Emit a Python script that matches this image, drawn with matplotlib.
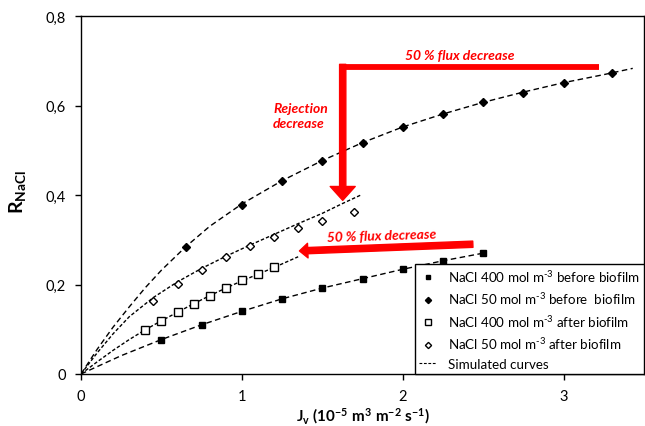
import numpy as np
import matplotlib
matplotlib.use("Agg")
import matplotlib.pyplot as plt

plt.rcParams['font.family'] = ['Lato', 'DejaVu Sans']
plt.rcParams['mathtext.fontset'] = 'custom'
plt.rcParams['mathtext.rm'] = 'Lato'
plt.rcParams['mathtext.it'] = 'Lato:italic'
plt.rcParams['mathtext.bf'] = 'Lato:bold'

# measured points
x_400_before = [0.5, 0.75, 1.0, 1.25, 1.5, 1.75, 2.0, 2.25, 2.5]
y_400_before = [0.077, 0.110, 0.140, 0.168, 0.192, 0.213, 0.234, 0.253, 0.270]

x_50_before = [0.65, 1.0, 1.25, 1.5, 1.75, 2.0, 2.25, 2.5, 2.75, 3.0, 3.3]
y_50_before = [0.284, 0.378, 0.432, 0.477, 0.517, 0.552, 0.580, 0.607, 0.629, 0.651, 0.672]

x_400_after = [0.4, 0.5, 0.6, 0.7, 0.8, 0.9, 1.0, 1.1, 1.2]
y_400_after = [0.099, 0.119, 0.138, 0.157, 0.175, 0.192, 0.209, 0.223, 0.238]

x_50_after = [0.45, 0.6, 0.75, 0.9, 1.05, 1.2, 1.35, 1.5, 1.7]
y_50_after = [0.164, 0.201, 0.232, 0.261, 0.285, 0.306, 0.326, 0.343, 0.362]

# simulated curves
sx_50_before = [0, 0.1, 0.2, 0.3, 0.4, 0.5, 0.65, 0.8, 1.0, 1.25, 1.5, 1.75, 2.0, 2.25, 2.5, 2.75, 3.0, 3.25, 3.43]
sy_50_before = [0, 0.055, 0.105, 0.150, 0.193, 0.232, 0.284, 0.330, 0.380, 0.432, 0.477, 0.517, 0.552, 0.581, 0.607, 0.630, 0.651, 0.669, 0.683]

sx_50_after = [0, 0.1, 0.2, 0.3, 0.45, 0.6, 0.75, 0.9, 1.05, 1.2, 1.35, 1.5, 1.62, 1.74]
sy_50_after = [0, 0.047, 0.090, 0.128, 0.171, 0.206, 0.236, 0.263, 0.288, 0.312, 0.336, 0.359, 0.380, 0.400]

sx_400_after = [0, 0.1, 0.2, 0.3, 0.4, 0.5, 0.6, 0.7, 0.8, 0.9, 1.0, 1.1, 1.2, 1.35]
sy_400_after = [0, 0.027, 0.053, 0.077, 0.099, 0.119, 0.138, 0.157, 0.175, 0.192, 0.208, 0.223, 0.238, 0.262]

sx_400_before = [0, 0.25, 0.5, 0.75, 1.0, 1.25, 1.5, 1.75, 2.0, 2.25, 2.5]
sy_400_before = [0, 0.041, 0.077, 0.110, 0.140, 0.168, 0.192, 0.213, 0.234, 0.253, 0.270]

xticks = [0, 1, 2, 3]
yticks = [0, 0.2, 0.4, 0.6, 0.8]
ytick_labels = ['0', '0,2', '0,4', '0,6', '0,8']

labels = [r'NaCl 400 mol m$^{\text{-}3}$ before biofilm',
          r'NaCl 50 mol m$^{\text{-}3}$ before  biofilm',
          r'NaCl 400 mol m$^{\text{-}3}$ after biofilm',
          r'NaCl 50 mol m$^{\text{-}3}$ after biofilm',
          'Simulated curves']

fig = plt.figure(figsize=(6.45, 4.27), dpi=100)
ax = fig.add_axes([81/645, 52/427, 563/645, 358/427])

# simulated curves
ax.plot(sx_50_before, sy_50_before, color='black', lw=1, dashes=(4, 2.5))
ax.plot(sx_50_after, sy_50_after, color='black', lw=1, dashes=(2.5, 1.5))
ax.plot(sx_400_after, sy_400_after, color='black', lw=1, dashes=(2.5, 1.5))
ax.plot(sx_400_before, sy_400_before, color='black', lw=1, dashes=(4, 2.5))

h1, = ax.plot(x_400_before, y_400_before, 's', ms=4.8, color='black', ls='none')
h2, = ax.plot(x_50_before, y_50_before, 'D', ms=4.5, color='black', ls='none')
h3, = ax.plot(x_400_after, y_400_after, 's', ms=5.2, mfc='white', mec='black', mew=1, ls='none')
h4, = ax.plot(x_50_after, y_50_after, 'D', ms=4.5, mfc='white', mec='black', mew=1, ls='none')
h5, = ax.plot([], [], color='black', lw=0.8, dashes=(2.5, 1.5))

# red arrows
ax.plot([1.606, 3.22], [0.686, 0.686], color='red', lw=4.2, solid_capstyle='butt')
ax.annotate('', xy=(1.627, 0.388), xytext=(1.627, 0.692),
            arrowprops=dict(arrowstyle='simple,head_width=1.8,head_length=1.0,tail_width=0.45',
                            color='red', shrinkA=0, shrinkB=0, mutation_scale=10))
ax.annotate('', xy=(1.358, 0.275), xytext=(2.436, 0.290),
            arrowprops=dict(arrowstyle='simple,head_width=1.05,head_length=0.6,tail_width=0.45',
                            color='red', shrinkA=0, shrinkB=0, mutation_scale=10))

red_font = dict(color='red', fontweight='bold', fontstyle='italic', fontsize=10)
ax.text(2.357, 0.713, '50 % flux decrease', ha='center', va='center', **red_font)
ax.text(1.194, 0.578, 'Rejection\ndecrease', ha='left', va='center', linespacing=1.35, **red_font)
ax.text(1.868, 0.310, '50 % flux decrease', ha='center', va='center', rotation=1.8, **red_font)

ax.set_xlim(0, 3.5)
ax.set_ylim(0, 0.8)
ax.set_xticks(xticks)
ax.set_yticks(yticks)
ax.set_yticklabels(ytick_labels)
ax.tick_params(direction='out', length=4, width=1, labelsize=10.5, pad=7)
for s in ax.spines.values():
    s.set_linewidth(1)

ax.set_xlabel(r'$\mathbf{J_v\ (10^{-5}\ m^3\ m^{-2}\ s^{-1})}$', fontsize=11)
ax.set_ylabel(r'$\mathbf{R_{NaCl}}$', fontsize=14)
ax.yaxis.set_label_coords(-0.095, 0.51)
ax.xaxis.set_label_coords(0.5, -0.088)

leg = ax.legend([h1, h2, h3, h4, h5], labels, loc='lower right', borderaxespad=0,
                fontsize=9.6, fancybox=False, framealpha=1, edgecolor='black',
                handlelength=1.3, handletextpad=0.9, labelspacing=0.5, markerscale=0.7,
                borderpad=0.3)
leg.get_frame().set_linewidth(1)

fig.savefig('out.png', dpi=100)
